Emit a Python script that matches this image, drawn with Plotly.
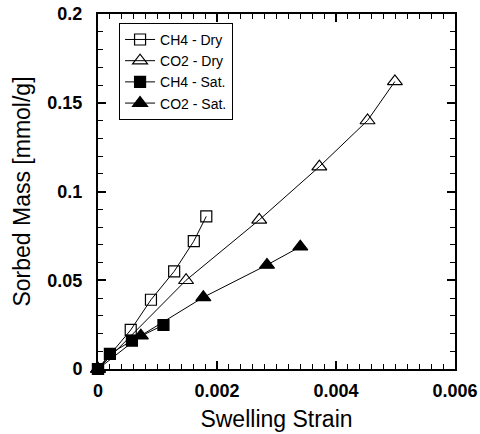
import plotly.graph_objects as go

ch4_dry_x = [0.0, 0.00055, 0.00089, 0.00128, 0.00161, 0.00182]
ch4_dry_y = [0.0, 0.022, 0.039, 0.055, 0.072, 0.086]

co2_dry_x = [0.0, 0.00148, 0.00271, 0.00372, 0.00453, 0.00499]
co2_dry_y = [0.0, 0.050, 0.084, 0.114, 0.140, 0.162]

ch4_sat_x = [0.0, 0.0002, 0.00057, 0.0011]
ch4_sat_y = [0.0, 0.0085, 0.016, 0.0248]

co2_sat_x = [0.0, 0.00072, 0.00177, 0.00284, 0.0034]
co2_sat_y = [0.0, 0.0188, 0.0404, 0.0586, 0.0689]

x_ticks = [0, 0.002, 0.004, 0.006]
x_labels = ["0", "0.002", "0.004", "0.006"]
y_ticks = [0, 0.05, 0.1, 0.15, 0.2]
y_labels = ["0", "0.05", "0.1", "0.15", "0.2"]

fig = go.Figure()

def add(x, y, name, symbol, size):
    fig.add_trace(go.Scatter(
        x=x, y=y, name=name, mode="lines+markers",
        line=dict(color="black", width=1),
        marker=dict(symbol=symbol, size=size, color="black",
                    line=dict(color="black", width=1.2)),
        cliponaxis=False,
    ))

add(ch4_dry_x, ch4_dry_y, "CH4 - Dry", "square-open", 11)
add(co2_dry_x, co2_dry_y, "CO2 - Dry", "triangle-up-open", 13)
add(ch4_sat_x, ch4_sat_y, "CH4 - Sat.", "square", 11)
add(co2_sat_x, co2_sat_y, "CO2 - Sat.", "triangle-up", 13)

axis_common = dict(
    showline=True, linecolor="black", linewidth=2, mirror="ticks",
    ticks="inside", ticklen=8, tickwidth=1.5, tickcolor="black",
    showgrid=False, zeroline=False,
    tickfont=dict(family="Liberation Sans, Arial", size=18, color="black", weight="bold"),
)

fig.update_layout(
    width=480, height=434,
    margin=dict(l=98, r=25, t=14, b=65, autoexpand=False),
    paper_bgcolor="white", plot_bgcolor="white",
    font=dict(family="Liberation Sans, Arial", color="black"),
    xaxis=dict(
        range=[0, 0.006], tickvals=x_ticks, ticktext=x_labels,
        ticklabelstandoff=4,
        title=dict(text="Swelling Strain", font=dict(size=23), standoff=11),
        minor=dict(dtick=0.0002, ticklen=5, tickcolor="black", tickwidth=1, ticks="inside"),
        **axis_common,
    ),
    yaxis=dict(
        range=[0, 0.2], tickvals=y_ticks, ticktext=y_labels,
        ticklabelstandoff=10,
        title=dict(text="Sorbed Mass [mmol/g]", font=dict(size=23), standoff=10),
        minor=dict(dtick=0.01, ticklen=5, tickcolor="black", tickwidth=1, ticks="inside"),
        **axis_common,
    ),
    showlegend=True,
    legend=dict(
        x=0.059, y=0.975, xanchor="left", yanchor="top",
        bordercolor="black", borderwidth=1, bgcolor="white",
        font=dict(family="Liberation Sans, Arial", size=14, color="black"),
        tracegroupgap=0, itemwidth=30,
    ),
)

fig.write_html("out.html", config={"displayModeBar": False},
               post_script="document.body.style.margin='0';")
